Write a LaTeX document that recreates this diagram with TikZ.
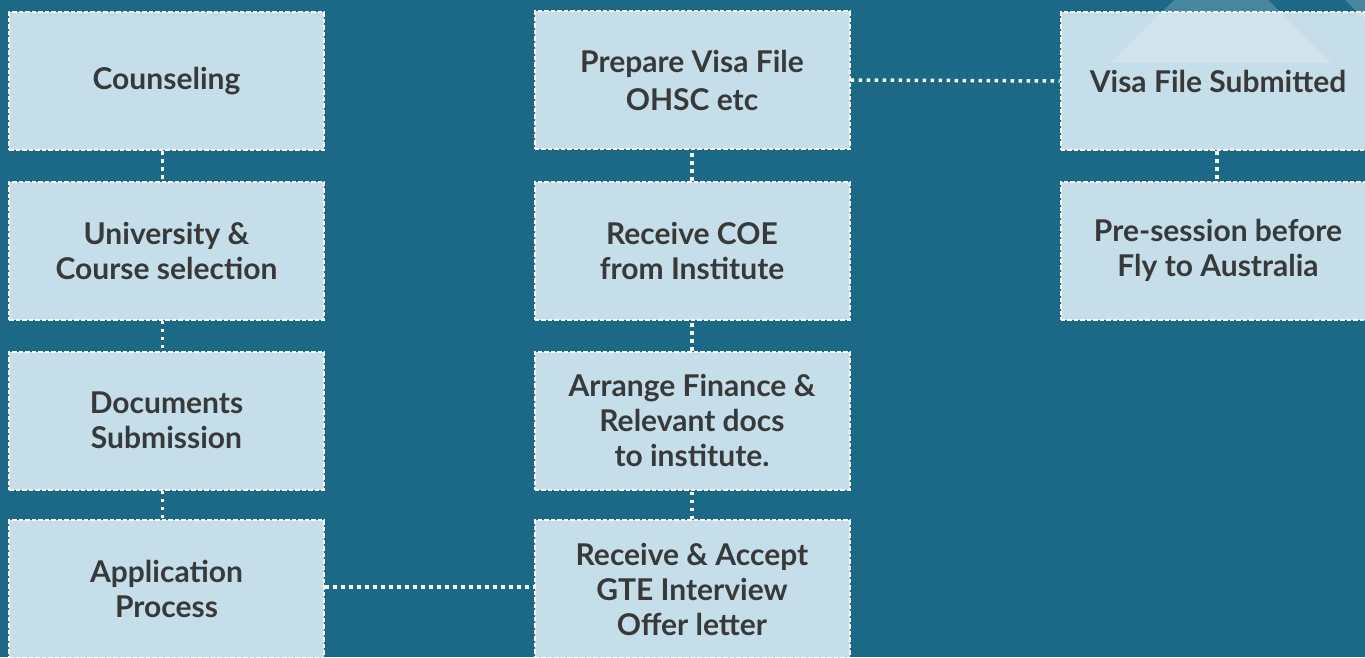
\documentclass[tikz,border=0pt]{standalone}
\usepackage{fontspec}
\setmainfont{Lato}
\definecolor{bgblue}{HTML}{1B6987}
\definecolor{boxblue}{HTML}{C6DEE9}
\definecolor{txtgray}{HTML}{37393B}
\tikzset{
  stepbox/.style={rectangle, fill=boxblue, draw=white, line width=2pt,
    dash pattern=on 4.5pt off 2pt, minimum width=315pt, minimum height=138pt,
    inner sep=0pt, align=center, text=txtgray,
    font=\bfseries\fontsize{30}{35}\selectfont},
  conn/.style={draw=white, line width=3.5pt, dash pattern=on 3.5pt off 4.5pt},
  shine/.style={fill=white, opacity=0.2}
}
\begin{document}
\begin{tikzpicture}[x=1pt,y=-1pt]
\useasboundingbox (0,0) rectangle (1365,657);
\clip (0,0) rectangle (1365,657);
\fill[bgblue] (0,0) rectangle (1365,657);
% column 1
\node[stepbox] (c1) at (166.5,81) {Counseling};
\node[stepbox] (c2) at (166.5,250.5) {University \&\\Course selection};
\node[stepbox] (c3) at (166.5,420.5) {Documents\\Submission};
\node[stepbox] (c4) at (166.5,589) {Application\\Process};
% column 2
\node[stepbox, font=\bfseries\fontsize{30}{38}\selectfont] (p1) at (692,80) {Prepare Visa File\\OHSC etc};
\node[stepbox] (p2) at (692,250.5) {Receive COE\\from Institute};
\node[stepbox] (p3) at (692,420.5) {Arrange Finance \&\\Relevant docs\\to institute.};
\node[stepbox] (p4) at (692,589) {Receive \& Accept\\GTE Interview\\Offer letter};
% column 3
\node[stepbox] (v1) at (1218,81) {Visa File Submitted};
\node[stepbox] (v2) at (1218,250.5) {Pre-session before\\Fly to Australia};
% connectors
\draw[conn] ([xshift=-4pt]c1.south) -- ([xshift=-4pt]c2.north);
\draw[conn] ([xshift=-4pt]c2.south) -- ([xshift=-4pt]c3.north);
\draw[conn] ([xshift=-4pt]c3.south) -- ([xshift=-4pt]c4.north);
\draw[conn] ([yshift=2pt]c4.east) -- ([yshift=2pt]p4.west);
\draw[conn] (p4.north) -- (p3.south);
\draw[conn] (p3.north) -- (p2.south);
\draw[conn] (p2.north) -- (p1.south);
\draw[conn] (p1.east) -- (v1.west);
\draw[conn] ([xshift=-1pt]v1.south) -- ([xshift=-1pt]v2.north);
% faint decoration top right
\fill[shine] (1221,-47) -- (1331,63) -- (1111,63) -- cycle;
\fill[shine] (1345,0) -- (1365,20) -- (1365,0) -- cycle;
\end{tikzpicture}
\end{document}
